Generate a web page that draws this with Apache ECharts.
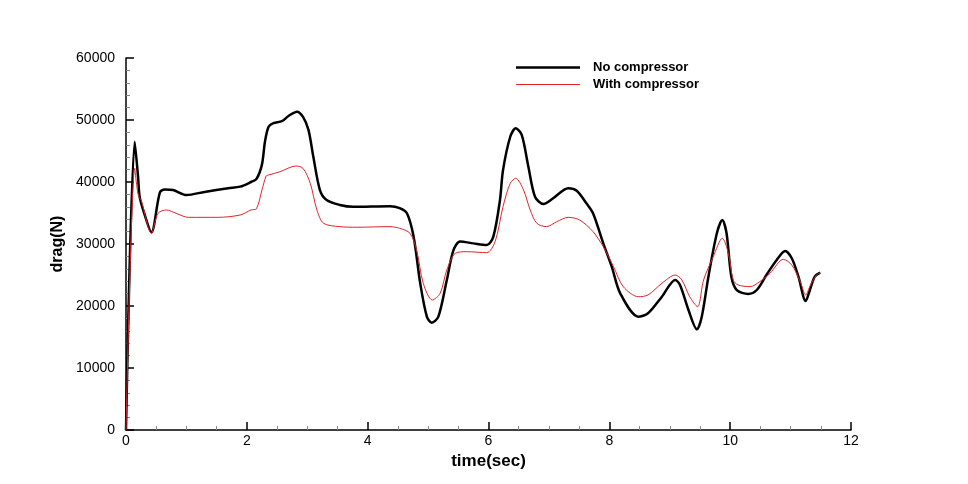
<!DOCTYPE html>
<html>
<head>
<meta charset="utf-8">
<script src="https://cdn.jsdelivr.net/npm/echarts@6/dist/echarts.min.js"></script>
<style>html,body{margin:0;padding:0;background:#fff}#c{width:968px;height:484px}</style>
</head>
<body>
<div id="c"></div>
<script>
var seriesNames = ['No compressor', 'With compressor'];
var xTicks = [0, 2, 4, 6, 8, 10, 12];
var yTicks = [0, 10000, 20000, 30000, 40000, 50000, 60000];

var noCompT = [0, 0.144, 0.2, 0.226, 0.3, 0.42, 0.56, 0.64, 0.78, 1.0, 1.3, 1.69, 1.89, 2.07, 2.16, 2.25, 2.30, 2.36, 2.44, 2.58, 2.69, 2.83, 2.93, 3.02, 3.10, 3.21, 3.32, 3.54, 3.76, 4.37, 4.53, 4.65, 4.76, 4.87, 4.98, 5.06, 5.17, 5.31, 5.42, 5.53, 5.75, 5.97, 6.08, 6.19, 6.24, 6.36, 6.45, 6.55, 6.66, 6.77, 6.91, 7.07, 7.32, 7.46, 7.62, 7.73, 7.90, 8.04, 8.18, 8.48, 8.64, 8.87, 9.09, 9.17, 9.31, 9.45, 9.53, 9.64, 9.78, 9.87, 9.94, 10.02, 10.11, 10.30, 10.44, 10.60, 10.77, 10.91, 11.02, 11.13, 11.25, 11.32, 11.40, 11.49];
var noCompV = [0, 46500, 40800, 37600, 35000, 31900, 38300, 38800, 38700, 37900, 38400, 39000, 39250, 40000, 40500, 42800, 46500, 48900, 49500, 49800, 50650, 51350, 50500, 48400, 44100, 38700, 37100, 36300, 36000, 36100, 35800, 34950, 31200, 23660, 18280, 17300, 18280, 24200, 29000, 30400, 30100, 29840, 31200, 37100, 41900, 47300, 48650, 47600, 42470, 37630, 36450, 37370, 39000, 38600, 36570, 34950, 30100, 26340, 22050, 18280, 18820, 21500, 24200, 23400, 19360, 16240, 18280, 24730, 31730, 33870, 31730, 24730, 22580, 21940, 22580, 25000, 27420, 28870, 27700, 24730, 20800, 22580, 24730, 25370];

var withCompT = [0, 0.144, 0.18, 0.21, 0.25, 0.42, 0.53, 0.67, 0.83, 1.03, 1.52, 1.89, 2.07, 2.16, 2.25, 2.32, 2.36, 2.55, 2.81, 2.93, 3.05, 3.16, 3.27, 3.54, 3.82, 4.37, 4.53, 4.70, 4.81, 4.92, 5.07, 5.20, 5.31, 5.45, 5.64, 5.97, 6.11, 6.24, 6.36, 6.45, 6.58, 6.69, 6.80, 6.96, 7.13, 7.32, 7.51, 7.73, 7.90, 8.07, 8.23, 8.48, 8.64, 8.87, 9.09, 9.20, 9.33, 9.46, 9.56, 9.72, 9.87, 9.97, 10.05, 10.13, 10.33, 10.49, 10.66, 10.88, 11.02, 11.16, 11.25, 11.33, 11.43, 11.49];
var withCompV = [0, 42200, 39250, 37630, 37100, 31730, 34950, 35490, 34950, 34300, 34300, 34680, 35490, 35700, 38700, 40970, 41130, 41660, 42580, 42210, 39790, 35490, 33340, 32800, 32700, 32800, 32530, 31730, 29030, 23660, 20970, 22050, 25810, 28500, 28760, 28600, 30400, 36020, 39790, 40600, 38700, 35490, 33340, 32800, 33600, 34300, 33870, 31990, 29570, 26340, 23120, 21500, 21780, 23660, 25000, 24200, 21500, 19890, 24200, 27950, 30920, 28500, 24200, 23400, 23120, 23930, 25280, 27530, 26610, 23930, 21780, 23400, 25000, 25370];

function pairs(t, v) { return t.map(function (x, i) { return [x, v[i]]; }); }

var chart = echarts.init(document.getElementById('c'), null, { renderer: 'canvas' });
var font = 'Arial, "Liberation Sans", sans-serif';
chart.setOption({
  animation: false,
  backgroundColor: '#ffffff',
  grid: { left: 126, right: 117, top: 58, bottom: 54 },
  legend: {
    orient: 'vertical',
    left: 511, top: 56,
    itemWidth: 64, itemHeight: 14, itemGap: 4,
    textStyle: { fontFamily: font, fontWeight: 'bold', fontSize: 13, color: '#000', padding: [0, 0, 0, 8] },
    data: [
      { name: seriesNames[0], icon: 'path://M0,0H64V2.5H0Z', itemStyle: { color: '#000' } },
      { name: seriesNames[1], icon: 'path://M0,0H64V1H0Z', itemStyle: { color: '#e0242a' } }
    ]
  },
  xAxis: {
    type: 'value', min: xTicks[0], max: xTicks[xTicks.length - 1], interval: 2,
    name: 'time(sec)', nameLocation: 'middle', nameGap: 18,
    nameTextStyle: { fontFamily: font, fontWeight: 'bold', fontSize: 17, color: '#000' },
    axisLine: { lineStyle: { color: '#000', width: 1.5 } },
    axisTick: { inside: true, length: 8, lineStyle: { color: '#000', width: 1.5 } },
    minorTick: { show: true, splitNumber: 4, length: 4, lineStyle: { color: '#888' } },
    axisLabel: { fontFamily: font, fontSize: 14, color: '#000', margin: 4 },
    splitLine: { show: false }
  },
  yAxis: {
    type: 'value', min: yTicks[0], max: yTicks[yTicks.length - 1], interval: 10000,
    name: 'drag(N)', nameLocation: 'middle', nameGap: 58, nameRotate: 90,
    nameTextStyle: { fontFamily: font, fontWeight: 'bold', fontSize: 16, color: '#000' },
    axisLine: { show: true, lineStyle: { color: '#000', width: 1.5 } },
    axisTick: { show: true, inside: true, length: 8, lineStyle: { color: '#000', width: 1.5 } },
    minorTick: { show: true, splitNumber: 5, length: 4, lineStyle: { color: '#888' } },
    axisLabel: { fontFamily: font, fontSize: 14, color: '#000', margin: 11, formatter: function (v) { return String(v); } },
    splitLine: { show: false }
  },
  series: [
    { name: seriesNames[0], type: 'line', data: pairs(noCompT, noCompV), symbol: 'none', smooth: 0.3,
      lineStyle: { color: '#000', width: 2.5 }, itemStyle: { color: '#000' }, z: 2 },
    { name: seriesNames[1], type: 'line', data: pairs(withCompT, withCompV), symbol: 'none', smooth: 0.3,
      lineStyle: { color: '#e0242a', width: 1 }, itemStyle: { color: '#e0242a' }, z: 3 }
  ]
});
</script>
</body>
</html>
